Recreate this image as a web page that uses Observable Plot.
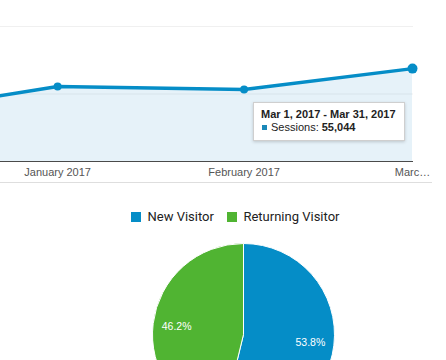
<!DOCTYPE html>
<html>
<head>
<meta charset="utf-8">
<script src="https://cdn.jsdelivr.net/npm/d3@7"></script>
<script src="https://cdn.jsdelivr.net/npm/@observablehq/plot@0.6"></script>
<style>
  html, body { margin: 0; padding: 0; background: #fff; }
  #wrap { position: relative; width: 446px; height: 360px; overflow: hidden; background: #fff; }
  #topchart { position: absolute; left: 0; top: 0; }
  #pie { position: absolute; left: 0; top: 190px; }
  #legend { position: absolute; left: 131px; top: 200px; }
  #sep { position: absolute; left: 0; top: 182px; width: 432px; height: 1px; background: #dedede; }
  #tip { position: absolute; left: 253px; top: 102px; width: 143px; height: 32px; padding: 5px 0 0 7px;
         background: #fff; border: 1px solid #cfcfcf; box-shadow: 0 1px 3px rgba(0,0,0,0.18);
         font: 11px Arial, "Liberation Sans", sans-serif; color: #222; line-height: 13px; }
  #tip b { font-weight: bold; }
  #tip .sq { display: inline-block; width: 5px; height: 5px; background: #1a88b8; margin: 0 4px 1px 1px; vertical-align: middle; }
</style>
</head>
<body>
<div id="wrap">
  <div id="topchart"></div>
  <div id="tip"></div>
  <div id="sep"></div>
  <div id="legend"></div>
  <div id="pie"></div>
</div>
<script>
// ---- data ----
const months = ["2016-12-01", "2017-01-01", "2017-02-01", "2017-03-01"];
const sessions = [27000, 44400, 42700, 55044];
const xTicks = ["2017-01-01", "2017-02-01", "2017-03-01"];
const xTickLabels = ["January 2017", "February 2017", "Marc…"];
const yGrid = [40000, 80000];
const tipTitle = "Mar 1, 2017 - Mar 31, 2017";
const tipSeries = "Sessions";
const visitorTypes = ["New Visitor", "Returning Visitor"];
const visitorShares = [53.8, 46.2];
const visitorColors = ["#058dc7", "#50b432"];

const data = months.map((m, i) => ({date: new Date(m), sessions: sessions[i]}));
const tickDates = xTicks.map(d => new Date(d));

// ---- line/area chart ----
const lineChart = Plot.plot({
  width: 446,
  height: 183,
  marginTop: 26,
  marginBottom: 22,
  marginLeft: 0,
  marginRight: 33,
  style: {fontFamily: "Arial, 'Liberation Sans', sans-serif", fontSize: "11px", background: "transparent", overflow: "visible"},
  x: {type: "utc", domain: [new Date(Date.UTC(2016, 11, 22, 12)), new Date(Date.UTC(2017, 2, 1, 4))]},
  y: {domain: [0, 80000], axis: null},
  marks: [
    Plot.areaY(data, {x: "date", y: "sessions", fill: "#e6f2f9", clip: true}),
    Plot.ruleY(yGrid, {stroke: "#000", strokeOpacity: 0.06}),
    Plot.ruleY([0], {stroke: "#4a4a4a", strokeWidth: 1}),
    Plot.lineY(data, {x: "date", y: "sessions", stroke: "#058dc7", strokeWidth: 3.5, clip: true}),
    Plot.dot(data.slice(1, 3), {x: "date", y: "sessions", r: 4, fill: "#058dc7"}),
    Plot.dot(data.slice(3), {x: "date", y: "sessions", r: 5, fill: "#058dc7"}),
    Plot.axisX({
      ticks: tickDates,
      tickFormat: d => xTickLabels[tickDates.findIndex(t => +t === +d)],
      tickSize: 0,
      tickPadding: 7,
      color: "#555",
      fontSize: 11
    })
  ]
});
document.getElementById("topchart").appendChild(lineChart);

// ---- tooltip ----
const last = sessions.length - 1;
document.getElementById("tip").innerHTML =
  `<b>${tipTitle}</b><br><span class="sq"></span>${tipSeries}: <b>${d3.format(",")(sessions[last])}</b>`;

// ---- legend ----
const colorScale = {domain: visitorTypes, range: visitorColors};
const legend = Plot.legend({
  color: colorScale,
  swatchSize: 10,
  style: {fontFamily: "Roboto, sans-serif", fontSize: "13px", color: "#222", background: "transparent"}
});
document.getElementById("legend").appendChild(legend);

// ---- pie ----
const color = Plot.scale({color: colorScale});
const pieData = visitorTypes.map((t, i) => ({type: t, share: visitorShares[i]}));
const pieChart = Plot.plot({
  width: 446,
  height: 170,
  margin: 0,
  style: {background: "transparent"},
  x: {axis: null}, y: {axis: null},
  marks: [
    (index, scales, values, dimensions) => {
      const cx = 243.5, cy = 144.5, r = 91;
      const g = d3.create("svg:g").attr("transform", `translate(${cx},${cy})`);
      const arcs = d3.pie().sort(null).value(d => d.share)(pieData);
      const arc = d3.arc().innerRadius(0).outerRadius(r);
      const labelArc = d3.arc().innerRadius(r * 0.74).outerRadius(r * 0.74);
      g.selectAll("path").data(arcs).join("path")
        .attr("d", arc)
        .attr("fill", d => color.apply(d.data.type))
        .attr("stroke", "#fff")
        .attr("stroke-width", 1);
      g.selectAll("text").data(arcs).join("text")
        .attr("transform", d => `translate(${labelArc.centroid(d)})`)
        .attr("text-anchor", "middle")
        .attr("dy", "0.35em")
        .attr("fill", "#fff")
        .attr("font-family", "Arial, 'Liberation Sans', sans-serif")
        .attr("font-size", 10.5)
        .text(d => d.data.share.toFixed(1) + "%");
      return g.node();
    }
  ]
});
document.getElementById("pie").appendChild(pieChart);
</script>
</body>
</html>
